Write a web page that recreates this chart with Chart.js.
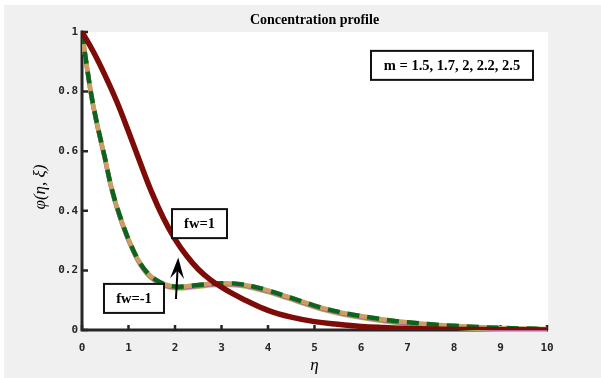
<!DOCTYPE html>
<html>
<head>
<meta charset="utf-8">
<script src="https://cdn.jsdelivr.net/npm/chart.js@4"></script>
<style>
  html, body { margin: 0; padding: 0; background: #ffffff; }
  #wrap { width: 601px; height: 378px; }
</style>
</head>
<body>
<div id="wrap"><canvas id="c" width="601" height="378"></canvas></div>
<script>
// ---- text ----
const titleText = 'Concentration profile';
const xTitle = 'η';
const yTitle = 'φ(η, ξ)';
const mLabel = 'm = 1.5, 1.7, 2, 2.2, 2.5';
const fwPosLabel = 'fw=1';
const fwNegLabel = 'fw=-1';

// ---- axes ----
const xTicks = [0, 1, 2, 3, 4, 5, 6, 7, 8, 9, 10];
const yTicks = [0, 0.2, 0.4, 0.6, 0.8, 1];
const yTickLabels = ['0', '0.2', '0.4', '0.6', '0.8', '1'];

// ---- concentration, fw = 1 (curves for all m coincide) ----
const etaPos = [0, 0.25, 0.5, 0.75, 1, 1.25, 1.5, 1.75, 2, 2.25, 2.5, 2.75, 3, 3.25, 3.5, 4, 4.5, 5, 5.5, 6, 6.5, 7, 8, 9, 10];
const phiPos = [1, 0.932, 0.853, 0.766, 0.666, 0.562, 0.462, 0.376, 0.305, 0.249, 0.204, 0.170, 0.144, 0.121, 0.101, 0.066, 0.043, 0.028, 0.019, 0.012, 0.008, 0.005, 0.002, 0.001, 0];

// ---- concentration, fw = -1 (curves for all m coincide) ----
const etaNeg = [0, 0.1, 0.2, 0.3, 0.4, 0.5, 0.6, 0.7, 0.8, 0.9, 1.0, 1.2, 1.4, 1.6, 1.8, 2.0, 2.2, 2.5, 2.8, 3.1, 3.4, 3.7, 4.0, 4.3, 4.6, 5.0, 5.4, 5.8, 6.2, 6.6, 7.0, 7.5, 8, 8.5, 9, 9.5, 10];
const phiNeg = [1, 0.89, 0.79, 0.71, 0.64, 0.573, 0.50, 0.44, 0.39, 0.345, 0.305, 0.238, 0.193, 0.167, 0.152, 0.146, 0.146, 0.151, 0.156, 0.157, 0.154, 0.145, 0.133, 0.118, 0.103, 0.082, 0.065, 0.052, 0.042, 0.033, 0.026, 0.019, 0.014, 0.010, 0.007, 0.005, 0.003];

const pts = (xs, ys) => xs.map((x, i) => ({ x: x, y: ys[i] }));
const posPts = pts(etaPos, phiPos);
const negPts = pts(etaNeg, phiNeg);

// text boxes placed in data coordinates (centre), size in px
const notes = [
  { text: mLabel, x: 7.957, y: 0.888, w: 162, h: 29 },
  { text: fwPosLabel, x: 2.527, y: 0.357, w: 55, h: 29 },
  { text: fwNegLabel, x: 1.118, y: 0.106, w: 60, h: 29 }
];
const arrow = { from: [2.02, 0.104], to: [2.07, 0.243] };

const AXIS = '#262626';

const decor = {
  id: 'decor',
  beforeDraw(chart) {
    const { ctx, chartArea: a } = chart;
    ctx.save();
    ctx.fillStyle = '#ffffff';
    ctx.fillRect(0, 0, chart.width, chart.height);
    ctx.fillStyle = '#f0f0f0';
    ctx.fillRect(4, 5, chart.width - 4, chart.height - 5);
    ctx.fillStyle = '#ffffff';
    ctx.fillRect(a.left, a.top, a.right - a.left + 1, a.bottom - a.top + 1);
    ctx.restore();
  },
  beforeDatasetsDraw(chart) {
    const { ctx, chartArea: a, scales } = chart;
    const x0 = a.left, y0 = a.bottom;
    ctx.save();
    ctx.strokeStyle = AXIS;
    ctx.lineWidth = 3;
    ctx.beginPath();
    ctx.moveTo(x0, a.top - 1.5);
    ctx.lineTo(x0, y0);
    ctx.lineTo(a.right + 1, y0);
    ctx.stroke();
    ctx.lineWidth = 2.5;
    ctx.beginPath();
    xTicks.forEach(v => {
      const px = scales.x.getPixelForValue(v);
      ctx.moveTo(px, y0);
      ctx.lineTo(px, y0 - 5);
    });
    yTicks.forEach(v => {
      const py = scales.y.getPixelForValue(v);
      ctx.moveTo(x0, py);
      ctx.lineTo(x0 + 6, py);
    });
    ctx.stroke();
    ctx.restore();
  },
  beforeDatasetDraw(chart, args) {
    const s = chart.data.datasets[args.index].shiftY;
    if (s) { chart.ctx.save(); chart.ctx.translate(0, s); }
  },
  afterDatasetDraw(chart, args) {
    if (chart.data.datasets[args.index].shiftY) chart.ctx.restore();
  },
  afterDraw(chart) {
    const { ctx, chartArea: a, scales } = chart;
    ctx.save();
    ctx.fillStyle = '#000000';
    ctx.textAlign = 'center';
    ctx.textBaseline = 'alphabetic';
    ctx.font = 'bold 14px "Liberation Serif"';
    ctx.fillText(titleText, (a.left + a.right) / 2, 24);

    ctx.font = 'italic 17px "Liberation Serif"';
    ctx.textBaseline = 'middle';
    ctx.fillText(xTitle, (a.left + a.right) / 2, 366);

    ctx.save();
    ctx.translate(41, (a.top + a.bottom) / 2 + 6);
    ctx.rotate(-Math.PI / 2);
    ctx.font = 'italic 17px "Liberation Serif"';
    ctx.fillText(yTitle, 0, 0);
    ctx.restore();

    // labelled boxes
    ctx.font = 'bold 14.5px "Liberation Serif"';
    notes.forEach(n => {
      const cx = scales.x.getPixelForValue(n.x);
      const cy = scales.y.getPixelForValue(n.y);
      ctx.fillStyle = '#ffffff';
      ctx.fillRect(cx - n.w / 2, cy - n.h / 2, n.w, n.h);
      ctx.strokeStyle = '#111111';
      ctx.lineWidth = 2;
      ctx.strokeRect(cx - n.w / 2, cy - n.h / 2, n.w, n.h);
      ctx.fillStyle = '#000000';
      ctx.textBaseline = 'middle';
      ctx.fillText(n.text, cx, cy + 1);
    });

    // arrow
    const tx = scales.x.getPixelForValue(arrow.from[0]);
    const ty = scales.y.getPixelForValue(arrow.from[1]);
    const hx = scales.x.getPixelForValue(arrow.to[0]);
    const hy = scales.y.getPixelForValue(arrow.to[1]);
    const ang = Math.atan2(hy - ty, hx - tx);
    ctx.strokeStyle = '#000000';
    ctx.lineWidth = 2;
    ctx.beginPath();
    ctx.moveTo(tx, ty);
    ctx.lineTo(hx - Math.cos(ang) * 8, hy - Math.sin(ang) * 8);
    ctx.stroke();
    ctx.translate(hx, hy);
    ctx.rotate(ang);
    ctx.fillStyle = '#000000';
    ctx.beginPath();
    ctx.moveTo(0, 0);
    ctx.lineTo(-21, -7);
    ctx.lineTo(-13, 0);
    ctx.lineTo(-21, 7);
    ctx.closePath();
    ctx.fill();
    ctx.restore();
  }
};

const tickFont = { family: '"DejaVu Sans Mono"', weight: 'bold', size: 11 };

new Chart(document.getElementById('c'), {
  type: 'line',
  data: {
    datasets: [
      { label: 'fw=1', data: posPts, borderColor: '#7d0b08', borderWidth: 5.5 },
      { label: 'fw=-1', data: negPts, borderColor: '#0b6420', borderWidth: 4.5, borderDash: [12, 8] },
      { label: 'fw=-1 a', data: negPts, borderColor: '#c9a062', borderWidth: 4.5 },
      { label: 'fw=-1 b', data: negPts, borderColor: '#b9639c', borderWidth: 4.5, shiftY: 1 },
      { label: 'fw=-1 c', data: negPts, borderColor: '#a9cf5b', borderWidth: 4, shiftY: 2 }
    ]
  },
  options: {
    responsive: false,
    animation: false,
    elements: {
      point: { radius: 0, hoverRadius: 0 },
      line: { tension: 0.4, borderCapStyle: 'butt', borderJoinStyle: 'round', fill: false }
    },
    layout: { padding: { top: 32, right: 54, left: 0, bottom: 0 } },
    plugins: { legend: { display: false }, tooltip: { enabled: false }, title: { display: false } },
    scales: {
      x: {
        type: 'linear', min: 0, max: 10,
        afterBuildTicks: s => { s.ticks = xTicks.map(v => ({ value: v })); },
        afterFit: s => { s.height = 48; },
        grid: { display: false, drawTicks: false },
        border: { display: false },
        ticks: { font: tickFont, color: AXIS, padding: 12, maxRotation: 0, autoSkip: false, callback: v => String(v) }
      },
      y: {
        type: 'linear', min: 0, max: 1,
        afterBuildTicks: s => { s.ticks = yTicks.map(v => ({ value: v })); },
        afterFit: s => { s.width = 82; },
        grid: { display: false, drawTicks: false },
        border: { display: false },
        ticks: { font: tickFont, color: AXIS, padding: 4, autoSkip: false, callback: (v, i) => yTickLabels[i] }
      }
    }
  },
  plugins: [decor]
});
</script>
</body>
</html>
